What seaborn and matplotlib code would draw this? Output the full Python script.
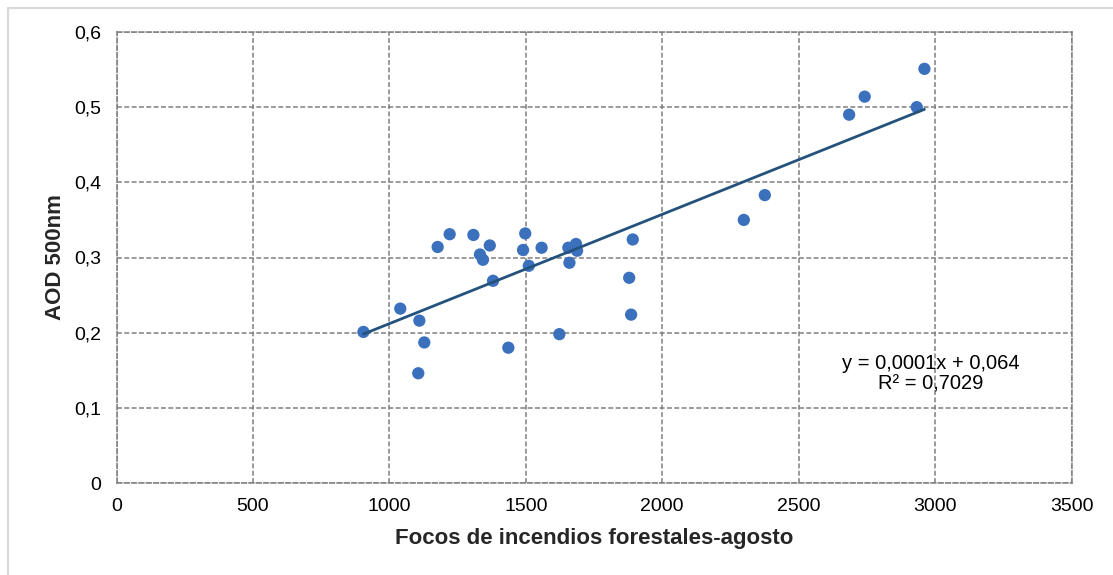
import matplotlib
matplotlib.use("Agg")
import matplotlib.pyplot as plt
import seaborn as sns
import pandas as pd
from matplotlib.patches import Rectangle
from matplotlib.ticker import FuncFormatter

# Data
focos = [905, 1040, 1110, 1128, 1106, 1177, 1221, 1308, 1368, 1332, 1343, 1380,
         1436, 1498, 1490, 1511, 1558, 1623, 1656, 1684, 1688, 1660, 1892, 1879,
         1886, 2376, 2299, 2685, 2742, 2933, 2961]
aod = [0.201, 0.232, 0.216, 0.187, 0.146, 0.314, 0.331, 0.330, 0.316, 0.304,
       0.297, 0.269, 0.180, 0.332, 0.310, 0.289, 0.313, 0.198, 0.313, 0.318,
       0.309, 0.293, 0.324, 0.273, 0.224, 0.383, 0.350, 0.490, 0.514, 0.500,
       0.551]
x_ticks = [0, 500, 1000, 1500, 2000, 2500, 3000, 3500]
y_ticks = [0, 0.1, 0.2, 0.3, 0.4, 0.5, 0.6]
x_label = "Focos de incendios forestales-agosto"
y_label = "AOD 500nm"
eq_text = "y = 0,0001x + 0,064\nR\u00b2 = 0,7029"

df = pd.DataFrame({"focos": focos, "aod": aod})

sns.set_style("white")
plt.rcParams["font.family"] = ["Liberation Sans", "DejaVu Sans"]

fig = plt.figure(figsize=(11.13, 5.75), dpi=100)
ax = fig.add_axes([116.5 / 1113, 1 - 483 / 575, (1071.5 - 116.5) / 1113, (483 - 32) / 575])

sns.regplot(data=df, x="focos", y="aod", ax=ax, ci=None, truncate=True,
            scatter_kws=dict(s=78, color="#3b70bd", edgecolor="none", alpha=1, zorder=3),
            line_kws=dict(color="#23527c", lw=2.0, zorder=4))

ax.set_xlim(0, 3500)
ax.set_ylim(0, 0.6)
ax.set_xticks(x_ticks)
ax.set_yticks(y_ticks)
ax.xaxis.set_major_formatter(FuncFormatter(lambda v, p: f"{v:g}"))
ax.yaxis.set_major_formatter(FuncFormatter(lambda v, p: f"{v:g}".replace(".", ",")))

grid_kw = dict(color="#7f7f7f", linestyle=(0, (3.2, 1.6)), linewidth=1.1)
ax.grid(True, **grid_kw)
for sp in ax.spines.values():
    sp.set_visible(True)
    sp.set_color("#7f7f7f")
    sp.set_linestyle((0, (3.2, 1.6)))
    sp.set_linewidth(1.1)

ax.tick_params(axis="both", length=0, labelsize=14, colors="#000000")
ax.tick_params(axis="x", pad=11)
ax.tick_params(axis="y", pad=11)
ax.set_xlabel(x_label, fontsize=16, fontweight="bold", labelpad=9)
ax.set_ylabel(y_label, fontsize=16, fontweight="bold", labelpad=6)

ax.text(2985, 0.1455, eq_text, ha="center", va="center", multialignment="center",
        fontsize=14.5, linespacing=1.05, color="#000000", zorder=5)

# light chart-area border
fig.patches.append(Rectangle((8 / 1113, -0.05), 1.1, 1 - 7.5 / 575 + 0.05,
                             transform=fig.transFigure, fill=False,
                             edgecolor="#d9d9d9", linewidth=1.6))

fig.savefig("out.png", dpi=100)
